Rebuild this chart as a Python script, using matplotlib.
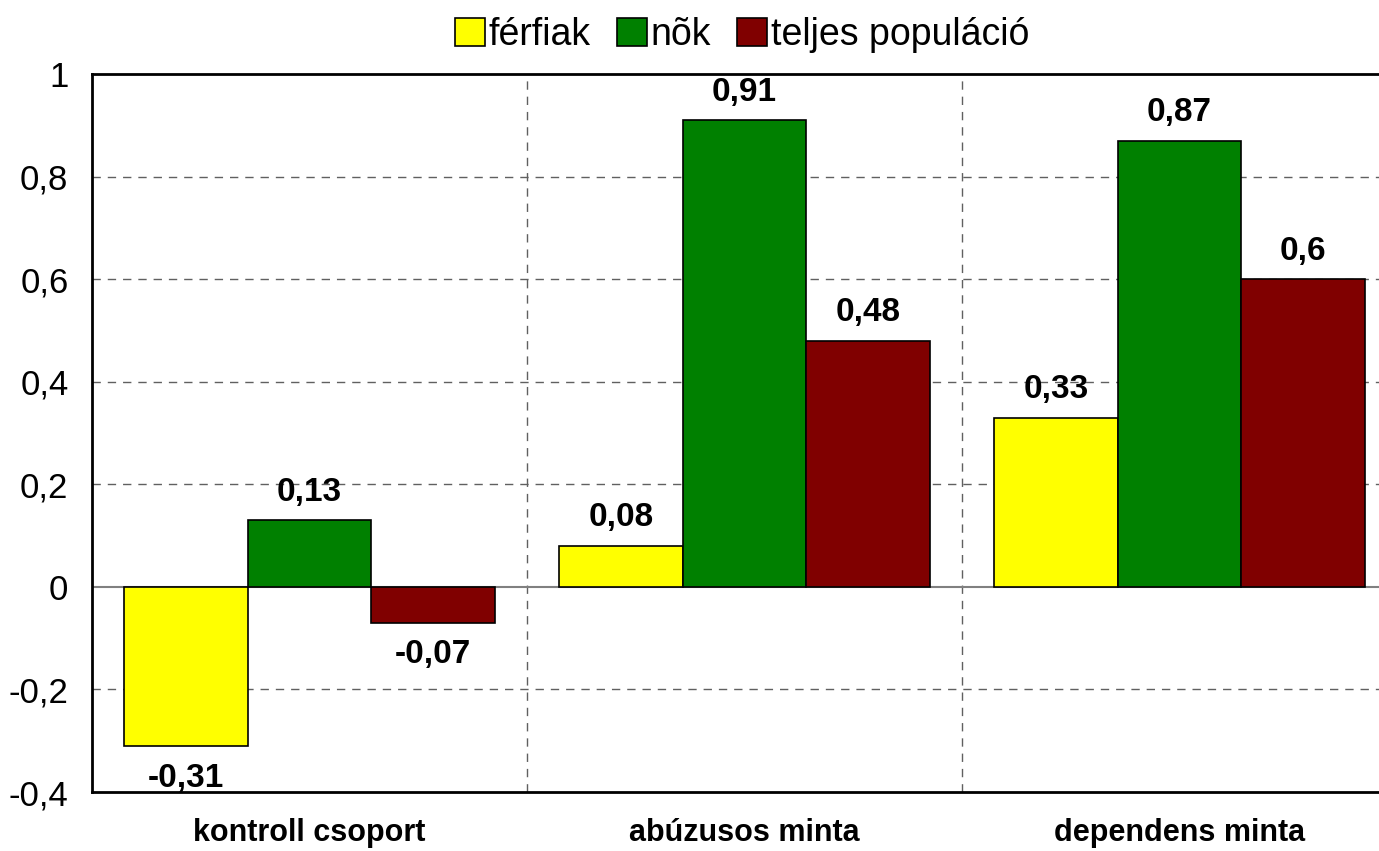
import matplotlib
matplotlib.use('Agg')
import matplotlib.pyplot as plt
import numpy as np

plt.rcParams['font.family'] = ['Liberation Sans Narrow', 'Liberation Sans', 'DejaVu Sans']

CATEGORIES = ['kontroll csoport', 'abúzusos minta', 'dependens minta']
SERIES = ['férfiak', 'nõk', 'teljes populáció']
FERFIAK = [-0.31, 0.08, 0.33]
NOK = [0.13, 0.91, 0.87]
TELJES = [-0.07, 0.48, 0.60]
COLORS = ['#FFFF00', '#008000', '#800000']
YTICKS = [-0.4, -0.2, 0, 0.2, 0.4, 0.6, 0.8, 1.0]


def fmt(v):
    s = f"{v:.2f}".rstrip('0').rstrip('.')
    return s.replace('.', ',')


fig = plt.figure(figsize=(13.79, 8.51), dpi=100)
ax = fig.add_axes([92 / 1379, 1 - 792 / 851, 1 - 92 / 1379, (792 - 74) / 851])

x = np.arange(len(CATEGORIES))
w = 0.284
for i, (name, vals, col) in enumerate(zip(SERIES, [FERFIAK, NOK, TELJES], COLORS)):
    pos = x + (i - 1) * w
    ax.bar(pos, vals, width=w, color=col, edgecolor='black', linewidth=1.2,
           label=name, zorder=3)
    for px, v in zip(pos, vals):
        if v >= 0:
            ax.annotate(fmt(v), (px, v), xytext=(0, 9), textcoords='offset points',
                        ha='center', va='bottom', fontsize=24, fontweight='bold')
        else:
            ax.annotate(fmt(v), (px, v), xytext=(0, -12), textcoords='offset points',
                        ha='center', va='top', fontsize=24, fontweight='bold')

ax.set_xlim(-0.5, 2.5 - 18 / 435)
ax.set_ylim(-0.4, 1.0)
ax.set_yticks(YTICKS)
ax.set_yticklabels([fmt(t) for t in YTICKS], fontsize=25)
ax.set_xticks(x)
ax.set_xticklabels(CATEGORIES, fontsize=22, fontweight='bold')
ax.tick_params(axis='y', length=0, pad=17)
ax.tick_params(axis='x', length=0, pad=19)

for t in YTICKS[1:-1]:
    if t == 0:
        ax.axhline(0, color='#808080', lw=1.5, zorder=2)
    else:
        ax.axhline(t, color='#606060', lw=1, ls=(0, (6, 5)), zorder=1)
for sep in [0.5, 1.5]:
    ax.axvline(sep, color='#606060', lw=1, ls=(0, (6, 5)), zorder=1)

for side in ['left', 'top', 'bottom']:
    ax.spines[side].set_linewidth(2)
ax.spines['right'].set_visible(False)

ax.legend(loc='lower center', bbox_to_anchor=(0.505, 1.008), ncol=3, frameon=False,
          fontsize=27, handlelength=0.8, handleheight=0.75, handletextpad=0.1,
          columnspacing=0.7, borderaxespad=0)

fig.savefig('out.png', dpi=100)
